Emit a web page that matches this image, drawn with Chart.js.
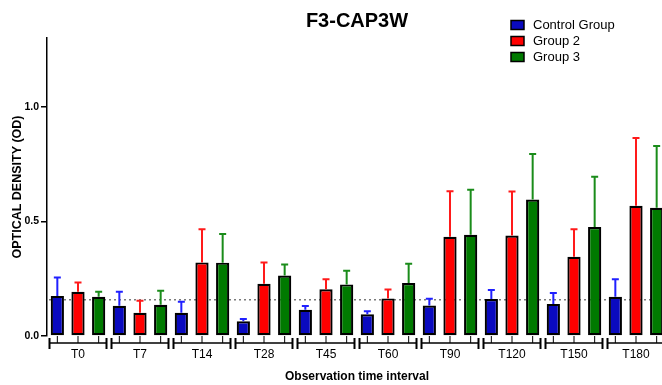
<!DOCTYPE html>
<html>
<head>
<meta charset="utf-8">
<script src="https://cdn.jsdelivr.net/npm/chart.js@4.4.1/dist/chart.umd.min.js"></script>
<style>
    html, body { margin: 0; padding: 0; background: #fff; overflow: hidden; }
    #wrap { width: 667px; height: 385px; position: relative; }
</style>
</head>
<body>
<div id="wrap"><canvas id="odChart"></canvas></div>
<script>
const categories = ['T0', 'T7', 'T14', 'T28', 'T45', 'T60', 'T90', 'T120', 'T150', 'T180'];
const seriesNames = ['Control Group', 'Group 2', 'Group 3'];

const controlMean = [0.175, 0.132, 0.101, 0.064, 0.114, 0.095, 0.133, 0.161, 0.140, 0.171];
const controlSd   = [0.080, 0.061, 0.048, 0.010, 0.017, 0.013, 0.029, 0.040, 0.048, 0.077];
const group2Mean  = [0.193, 0.101, 0.321, 0.228, 0.204, 0.164, 0.433, 0.438, 0.346, 0.568];
const group2Sd    = [0.040, 0.053, 0.145, 0.093, 0.044, 0.039, 0.199, 0.192, 0.120, 0.296];
const group3Mean  = [0.171, 0.136, 0.320, 0.264, 0.225, 0.231, 0.442, 0.595, 0.475, 0.559];
const group3Sd    = [0.022, 0.061, 0.125, 0.048, 0.060, 0.084, 0.196, 0.199, 0.220, 0.270];

const yTicks = [0, 0.5, 1.0];
const referenceLevel = 0.158;

const fontFamily = "'Liberation Sans', Arial, sans-serif";
const fillColors = ['#0a0abf', '#ff0000', '#007a00'];
const errColors = ['#2020ff', '#ff1a1a', '#1a8c1a'];

function makeDataset(i, values, sd) {
    return {
        label: seriesNames[i],
        data: values,
        sd: sd,
        backgroundColor: fillColors[i],
        borderColor: '#000',
        borderWidth: 2.2,
        borderSkipped: false,
        barPercentage: 0.64,
        categoryPercentage: 1.0
    };
}

// upper error bars + dotted reference line + prism style brackets
const extrasPlugin = {
    id: 'extras',
    beforeDatasetsDraw(chart) {
        const { ctx, chartArea } = chart;
        const y = chart.scales.y.getPixelForValue(referenceLevel);
        ctx.save();
        ctx.strokeStyle = '#7a7a7a';
        ctx.lineWidth = 1.5;
        ctx.setLineDash([2, 3]);
        ctx.beginPath();
        ctx.moveTo(chartArea.left + 2, y);
        ctx.lineTo(chartArea.right, y);
        ctx.stroke();
        ctx.restore();
    },
    afterDatasetsDraw(chart) {
        const { ctx } = chart;
        const yScale = chart.scales.y;
        ctx.save();
        chart.data.datasets.forEach(function (ds, di) {
            const meta = chart.getDatasetMeta(di);
            ctx.strokeStyle = errColors[di];
            ctx.lineWidth = 2;
            meta.data.forEach(function (bar, i) {
                const top = yScale.getPixelForValue(ds.data[i] + ds.sd[i]);
                ctx.beginPath();
                ctx.moveTo(bar.x, bar.y);
                ctx.lineTo(bar.x, top);
                ctx.moveTo(bar.x - 3.5, top);
                ctx.lineTo(bar.x + 3.5, top);
                ctx.stroke();
            });
        });
        ctx.restore();
    },
    afterDraw(chart) {
        const { ctx, chartArea } = chart;
        const xScale = chart.scales.x;
        const bottom = chartArea.bottom;
        const half = (chartArea.right - chartArea.left) / categories.length / 2;
        ctx.save();
        ctx.strokeStyle = '#000';
        categories.forEach(function (c, i) {
            const cx = xScale.getPixelForValue(i);
            const l = cx - half + 2.5;
            const r = cx + half - 2.5;
            ctx.lineWidth = 1.5;
            ctx.beginPath();
            ctx.moveTo(l, bottom + 7);
            ctx.lineTo(r, bottom + 7);
            ctx.stroke();
            ctx.lineWidth = 2;
            ctx.beginPath();
            ctx.moveTo(l, bottom + 2);
            ctx.lineTo(l, bottom + 13);
            ctx.moveTo(r, bottom + 2);
            ctx.lineTo(r, bottom + 13);
            ctx.stroke();
            ctx.lineWidth = 1;
            chart.data.datasets.forEach(function (ds, di) {
                const bar = chart.getDatasetMeta(di).data[i];
                ctx.beginPath();
                ctx.moveTo(bar.x, bottom);
                ctx.lineTo(bar.x, bottom + 7);
                ctx.stroke();
            });
        });

        // title centred over the plot
        ctx.fillStyle = '#000';
        ctx.font = 'bold 20px ' + fontFamily;
        ctx.textAlign = 'center';
        ctx.textBaseline = 'middle';
        ctx.fillText('F3-CAP3W', (chartArea.left + chartArea.right) / 2, 21);

        // legend
        ctx.font = '13px ' + fontFamily;
        ctx.textAlign = 'left';
        chart.data.datasets.forEach(function (ds, di) {
            const yy = 25 + di * 16;
            ctx.fillStyle = ds.backgroundColor;
            ctx.fillRect(511, yy - 4.5, 13, 9);
            ctx.lineWidth = 1.5;
            ctx.strokeStyle = '#000';
            ctx.strokeRect(511, yy - 4.5, 13, 9);
            ctx.fillStyle = '#000';
            ctx.fillText(ds.label, 533, yy + 0.5);
        });
        ctx.restore();
    }
};

const ctx = document.getElementById('odChart').getContext('2d');
new Chart(ctx, {
    type: 'bar',
    data: {
        labels: categories,
        datasets: [
            makeDataset(0, controlMean, controlSd),
            makeDataset(1, group2Mean, group2Sd),
            makeDataset(2, group3Mean, group3Sd)
        ]
    },
    options: {
        responsive: true,
        maintainAspectRatio: false,
        animation: false,
        layout: { padding: { top: 38, left: 0, right: 0, bottom: 0 } },
        plugins: {
            legend: { display: false },
            title: { display: false },
            tooltip: { enabled: false }
        },
        scales: {
            x: {
                offset: true,
                grid: { display: false, drawTicks: false },
                border: { display: false },
                ticks: {
                    color: '#000',
                    padding: 11,
                    font: { family: fontFamily, size: 12 }
                },
                title: {
                    display: true,
                    text: 'Observation time interval',
                    color: '#000',
                    padding: { top: 0, bottom: 1 },
                    font: { family: fontFamily, size: 12, weight: 'bold' }
                },
                afterFit: function (scale) {
                    scale.height = 49;
                    scale.paddingLeft = 0;
                    scale.paddingRight = 0;
                }
            },
            y: {
                min: 0,
                max: 1.3,
                grid: {
                    drawOnChartArea: false,
                    drawTicks: true,
                    tickLength: 6,
                    color: '#000',
                    lineWidth: 1.5
                },
                border: { display: true, color: '#000', width: 1.5 },
                ticks: {
                    stepSize: 0.5,
                    includeBounds: false,
                    padding: 2,
                    color: '#000',
                    font: { family: fontFamily, size: 10.5, weight: 'bold' },
                    callback: function (v) { return v.toFixed(1); }
                },
                afterBuildTicks: function (scale) {
                    scale.ticks = yTicks.map(function (v) { return { value: v }; });
                },
                title: {
                    display: true,
                    text: 'OPTICAL DENSITY (OD)',
                    color: '#000',
                    padding: { top: 10, bottom: 0 },
                    font: { family: fontFamily, size: 12.5, weight: 'bold' }
                },
                afterFit: function (scale) {
                    scale.width = 47;
                    scale.paddingTop = 0;
                    scale.paddingBottom = 0;
                }
            }
        }
    },
    plugins: [extrasPlugin]
});
</script>
</body>
</html>
